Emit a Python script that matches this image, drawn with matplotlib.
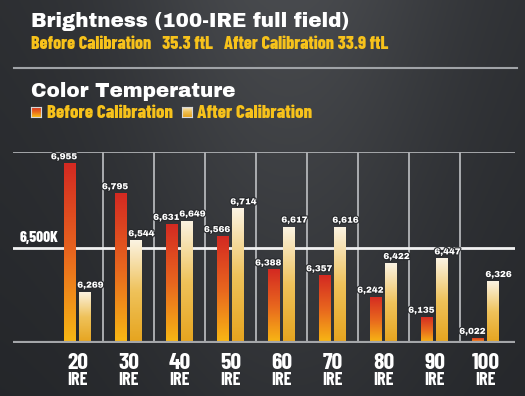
import numpy as np
import matplotlib.pyplot as plt
from matplotlib import patheffects as pe
from matplotlib.colors import LinearSegmentedColormap
from matplotlib.lines import Line2D

ire = ['20', '30', '40', '50', '60', '70', '80', '90', '100']
before = [6955, 6795, 6631, 6566, 6388, 6357, 6242, 6135, 6022]
after = [6269, 6544, 6649, 6714, 6617, 6616, 6422, 6447, 6326]
before_ftl = 35.3
after_ftl = 33.9
target = 6500

W, H = 525, 396
fig = plt.figure(figsize=(W / 100, H / 100), dpi=100)


def fx(x):
    return x / W


def fy(y):
    return 1 - y / H


# dark gradient background
bg = fig.add_axes([0, 0, 1, 1])
u = np.linspace(0, 1, 300)[None, :]
v = np.linspace(0, 1, 220)[:, None]
c = 0.172 + 0.11 * np.exp(-((u - 0.55) / 0.32) ** 2) * (1 - 0.6 * v) - 0.03 * v
img = np.dstack([c, c + 0.008, c + 0.022])
bg.imshow(np.clip(img, 0, 1), extent=[0, 1, 0, 1], aspect='auto')
bg.axis('off')

yellow = '#f7c21b'
heavy = dict(family=['Archivo Black', 'DejaVu Sans'], fontweight='normal', color='white')
narrow = dict(family=['Barlow Condensed', 'DejaVu Sans'], fontweight=800)
axlab = dict(family=['Barlow Condensed', 'DejaVu Sans'], fontweight='bold', color='white')

fig.text(fx(31), fy(27), 'Brightness (100-IRE full field)', fontsize=14.3, va='baseline', **heavy)
fig.text(fx(31), fy(49),
         f'Before Calibration   {before_ftl} ftL   After Calibration {after_ftl} ftL',
         fontsize=13, va='baseline', color=yellow, **narrow)
fig.add_artist(Line2D([fx(14), fx(517)], [fy(68), fy(68)], color='#a0a3a7', lw=1.5))
fig.text(fx(31), fy(97), 'Color Temperature', fontsize=14.3, va='baseline', **heavy)

red_cmap = LinearSegmentedColormap.from_list('red', ['#f8b814', '#e8661e', '#d42a22'])
gold_cmap = LinearSegmentedColormap.from_list('gold', ['#e6a41e', '#efc25a', '#fbf3e2'])

# legend squares
for x0, cm in [(31, red_cmap), (182, gold_cmap)]:
    lax = fig.add_axes([fx(x0), fy(117), 10 / W, 10 / H])
    lax.imshow(np.linspace(0, 1, 20)[:, None], cmap=cm, origin='lower', aspect='auto')
    lax.set_xticks([])
    lax.set_yticks([])
    for s in lax.spines.values():
        s.set_color('#d8d8d8')
        s.set_linewidth(0.8)
fig.text(fx(47), fy(118), 'Before Calibration', fontsize=13.5, va='baseline', color=yellow, **narrow)
fig.text(fx(197), fy(118), 'After Calibration', fontsize=13.5, va='baseline', color=yellow, **narrow)

# chart area
ax = fig.add_axes([fx(13), fy(343), 502 / W, 191 / H])
ax.axis('off')
ymin, ymax = 5995, 7015
x = np.arange(len(ire))
w = 0.235
off = 0.147

ax.vlines(x[:-1] + 0.5, ymin, ymax, color='#b4b6b9', lw=1.3, zorder=1)
ax.axhline(ymax, color='#aeb0b3', lw=1.3, zorder=1)
ax.axhline(target, color='#f2f2f2', lw=2, zorder=2)
ax.axhline(ymin, color='#a4a6a9', lw=3, zorder=5)

lab_fx = [pe.withStroke(linewidth=1.6, foreground='#26282b')]


def grad_bars(xs, vals, cmap, side):
    bars = ax.bar(xs, np.array(vals) - ymin, bottom=ymin, width=w, color='none', lw=0, zorder=3)
    for b, val in zip(bars, vals):
        x0 = b.get_x()
        im = ax.imshow(np.linspace(0, 1, 100)[:, None], cmap=cmap, origin='lower', aspect='auto',
                       extent=[x0, x0 + w, ymin, val], zorder=3)
        im.set_clip_path(b)
        if side == 'right':
            anchor, dx = x0 + w, 1
        else:
            anchor, dx = x0, -2
        ax.annotate(f'{val:,}', (anchor, val), xytext=(dx, 2), textcoords='offset pixels',
                    ha=side, va='bottom', fontsize=6.3, color='white',
                    family=['Archivo Black', 'DejaVu Sans'], path_effects=lab_fx, zorder=6)
    return bars


grad_bars(x - off, before, red_cmap, 'right')
grad_bars(x + off, after, gold_cmap, 'left')

ax.set_xlim(-1.27, 8.57)
ax.set_ylim(ymin, ymax)

ax.annotate(f'{target:,}K', (-1.27, target), xytext=(7, 6), textcoords='offset pixels',
            ha='left', va='baseline', fontsize=11, color='white', **narrow)

trans = ax.get_xaxis_transform()
for xi, lab in zip(x, ire):
    ax.annotate(lab, (xi, 0), xycoords=trans, xytext=(0, -26), textcoords='offset pixels',
                ha='center', va='baseline', fontsize=17, **axlab)
    ax.annotate('IRE', (xi, 0), xycoords=trans, xytext=(0, -42), textcoords='offset pixels',
                ha='center', va='baseline', fontsize=13, **axlab)

fig.savefig('out.png', dpi=100)
